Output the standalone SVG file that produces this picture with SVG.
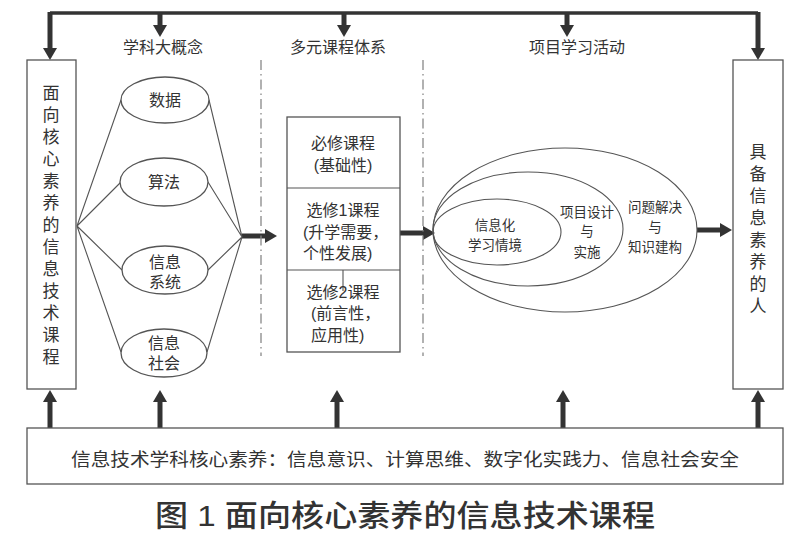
<svg xmlns="http://www.w3.org/2000/svg" width="800" height="542" viewBox="0 0 800 542">
<defs>
<marker id="ah" viewBox="0 0 12 14" refX="0" refY="7" markerWidth="12" markerHeight="14" markerUnits="userSpaceOnUse" orient="auto">
<path d="M0,0 L12,7 L0,14 z" fill="#333"/>
</marker>
<style>
text{font-family:"Liberation Sans","Noto Sans CJK SC",sans-serif;fill:#333;dominant-baseline:central;text-anchor:middle}
.box{fill:#fff;stroke:#555;stroke-width:1.3}
.thin{fill:none;stroke:#555;stroke-width:1.1}
.arr{fill:none;stroke:#333;stroke-width:5;marker-end:url(#ah)}
.dd{stroke:#888;stroke-width:1.3;stroke-dasharray:10 4 1.5 4;fill:none}
.t16{font-size:16px}
.t14{font-size:13.5px}
</style>
</defs>
<rect width="800" height="542" fill="#fff"/>

<g id="connectors">
<path d="M50,13 H758" stroke="#333" stroke-width="3.5" fill="none"/>
<line class="arr" x1="50" y1="12" x2="50" y2="48"/>
<line class="arr" x1="758" y1="12" x2="758" y2="48"/>
<line class="arr" x1="160" y1="13" x2="160" y2="25"/>
<line class="arr" x1="344" y1="13" x2="344" y2="25"/>
<line class="arr" x1="567" y1="13" x2="567" y2="25"/>
<line class="arr" x1="50" y1="428" x2="50" y2="402"/>
<line class="arr" x1="160" y1="428" x2="160" y2="402"/>
<line class="arr" x1="337" y1="428" x2="337" y2="402"/>
<line class="arr" x1="563" y1="428" x2="563" y2="402"/>
<line class="arr" x1="758" y1="428" x2="758" y2="402"/>
<line class="arr" x1="242" y1="236" x2="265" y2="236"/>
<line class="arr" x1="400" y1="233" x2="423" y2="233"/>
<line class="arr" x1="697" y1="230" x2="720" y2="230"/>
<path class="thin" d="M121,100 L77,226 L121,182 M77,226 L122,270 M77,226 L121,352"/>
<path class="thin" d="M209,100 L242,237 L208,182 M242,237 L208,270 M242,237 L207,352"/>
<line class="dd" x1="261" y1="60" x2="261" y2="356"/>
<line class="dd" x1="423" y1="60" x2="423" y2="356"/>
</g>

<g id="headings">
<text x="163" y="47" class="t16">学科大概念</text>
<text x="338" y="47" class="t16">多元课程体系</text>
<text x="577" y="47" class="t16">项目学习活动</text>
</g>

<g id="left-box">
<rect class="box" x="27" y="60" width="49" height="329"/>
<text x="51" font-size="17px">
<tspan x="51" y="93">面</tspan><tspan x="51" y="115">向</tspan><tspan x="51" y="137">核</tspan><tspan x="51" y="159">心</tspan><tspan x="51" y="181">素</tspan><tspan x="51" y="203">养</tspan><tspan x="51" y="225">的</tspan><tspan x="51" y="247">信</tspan><tspan x="51" y="269">息</tspan><tspan x="51" y="291">技</tspan><tspan x="51" y="313">术</tspan><tspan x="51" y="335">课</tspan><tspan x="51" y="357">程</tspan>
</text>
</g>

<g id="concept-data">
<ellipse class="box" cx="165" cy="100" rx="44" ry="23"/>
<text x="165" y="100" class="t16">数据</text>
</g>
<g id="concept-algo">
<ellipse class="box" cx="164" cy="182" rx="44" ry="24"/>
<text x="164" y="182" class="t16">算法</text>
</g>
<g id="concept-system">
<ellipse class="box" cx="165" cy="270" rx="43" ry="24"/>
<text x="165" y="262" class="t16">信息</text>
<text x="165" y="282" class="t16">系统</text>
</g>
<g id="concept-society">
<ellipse class="box" cx="164" cy="353" rx="43" ry="24"/>
<text x="164" y="343" class="t16">信息</text>
<text x="164" y="363" class="t16">社会</text>
</g>

<g id="courses">
<rect class="box" x="287" y="117" width="113" height="235"/>
<line class="thin" x1="287" y1="188" x2="400" y2="188"/>
<line class="thin" x1="287" y1="270" x2="400" y2="270"/>
<line class="thin" x1="343" y1="270" x2="343" y2="291"/>
<text x="343" y="143" class="t16">必修课程</text>
<text x="343" y="165" class="t16">(基础性)</text>
<text x="343" y="210" class="t16">选修1课程</text>
<text x="303" y="232" class="t16" style="text-anchor:start">(升学需要，</text>
<text x="303" y="253" class="t16" style="text-anchor:start">个性发展)</text>
<text x="343" y="292" class="t16">选修2课程</text>
<text x="311" y="313" class="t16" style="text-anchor:start">(前言性，</text>
<text x="311" y="335" class="t16" style="text-anchor:start">应用性)</text>
</g>

<g id="activities">
<ellipse class="thin" cx="565" cy="230" rx="132" ry="82"/>
<ellipse class="thin" cx="528" cy="229" rx="95" ry="57"/>
<ellipse class="thin" cx="497" cy="232" rx="64" ry="33"/>
<text x="495" y="225" class="t14">信息化</text>
<text x="495" y="245" class="t14">学习情境</text>
<text x="587" y="212" class="t14">项目设计</text>
<text x="587" y="231" class="t14">与</text>
<text x="587" y="252" class="t14">实施</text>
<text x="655" y="207" class="t14">问题解决</text>
<text x="655" y="227" class="t14">与</text>
<text x="655" y="247" class="t14">知识建构</text>
</g>

<g id="right-box">
<rect class="box" x="733" y="60" width="50" height="329"/>
<text x="758" font-size="17px">
<tspan x="758" y="152">具</tspan><tspan x="758" y="174">备</tspan><tspan x="758" y="196">信</tspan><tspan x="758" y="218">息</tspan><tspan x="758" y="240">素</tspan><tspan x="758" y="262">养</tspan><tspan x="758" y="284">的</tspan><tspan x="758" y="306">人</tspan>
</text>
</g>

<g id="core-literacy">
<rect class="box" x="27" y="428" width="756" height="56"/>
<text x="405" y="460" font-size="18px" textLength="668" lengthAdjust="spacingAndGlyphs">信息技术学科核心素养：信息意识、计算思维、数字化实践力、信息社会安全</text>
</g>

<g id="caption">
<text x="405" y="515" font-size="30px" font-weight="500" fill="#222" textLength="500" lengthAdjust="spacingAndGlyphs">图 1 面向核心素养的信息技术课程</text>
</g>
</svg>
